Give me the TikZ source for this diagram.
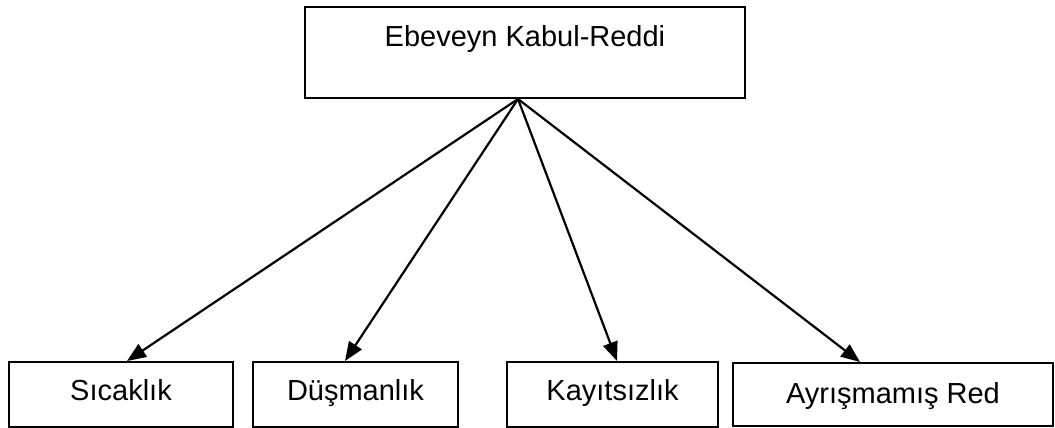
\documentclass[tikz,border=0pt]{standalone}
\usepackage{fontspec}
\setmainfont{Liberation Sans}
\usetikzlibrary{arrows.meta}
\begin{document}
\begin{tikzpicture}[x=1pt,y=-1pt,
  box/.style={draw=black, line width=2pt, rectangle, inner sep=0pt,
    font=\fontsize{29}{34}\selectfont, text height=20pt, text depth=9pt},
  arr/.style={line width=2.2pt, -{Triangle[length=19pt,width=15pt]}}]
\useasboundingbox (0,0) rectangle (1055,428);
\node[box, minimum width=440pt, minimum height=91pt, text depth=31pt] (top) at (525,52.5) {Ebeveyn Kabul-Reddi};
\node[box, minimum width=224pt, minimum height=65pt] (sic) at (121,394.5) {Sıcaklık};
\node[box, minimum width=205pt, minimum height=65pt] (dus) at (355.5,394.5) {Düşmanlık};
\node[box, minimum width=211pt, minimum height=65pt] (kay) at (612.5,394.5) {Kayıtsızlık};
\node[box, minimum width=320pt, minimum height=63pt, text depth=3pt] (ayr) at (893,394.5) {Ayrışmamış Red};
\coordinate (hub) at ([xshift=-7pt]top.south);
\draw[arr] (hub) -- ([xshift=6pt]sic.north);
\draw[arr] (hub) -- ([xshift=-10.5pt]dus.north);
\draw[arr] (hub) -- ([xshift=4.5pt]kay.north);
\draw[arr] (hub) -- ([xshift=-33pt]ayr.north);
\end{tikzpicture}
\end{document}
